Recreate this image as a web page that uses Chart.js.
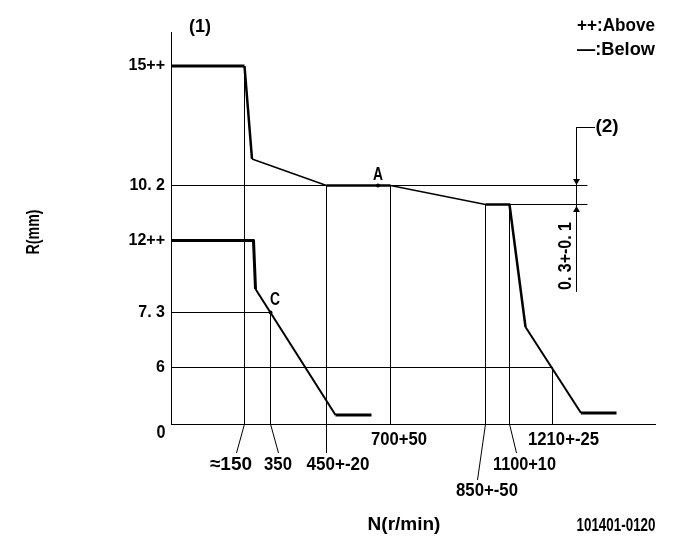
<!DOCTYPE html>
<html>
<head>
<meta charset="utf-8">
<script src="https://cdn.jsdelivr.net/npm/chart.js@4"></script>
<style>
  html, body { margin: 0; padding: 0; background: #fff; }
  canvas { display: block; }
</style>
</head>
<body>
<canvas id="chart" width="681" height="549"></canvas>
<script>
// The drawing is a schematic, so both axes run in drawing units, not in r/min or mm
const upperX = [0, 73.5, 81, 155.5, 219.5, 314.5, 338.5, 354.5, 410, 445.5];
const upperY = [358, 358, 265, 238.5, 238.5, 219.5, 219.5, 97, 11, 11];
const lowerX = [0, 82.5, 84.5, 164.5, 200.5];
const lowerY = [183.5, 183.5, 135, 9, 9];

// y axis ticks
const yTickValues = [358, 238.5, 183.5, 111.5, 56.5];
const yTickLabels = ['15++', '10. 2', '12++', '7. 3', '6'];

// thin guide lines, each one [x1, y1, x2, y2]
const guides = [
    [0, 238.5, 416.5, 238.5],
    [314.5, 219.5, 416.5, 219.5],
    [0, 111.5, 99.5, 111.5],
    [0, 56.5, 381.5, 56.5],
    [73.5, 358, 73.5, 0],
    [73.5, 0, 65.5, -29],
    [99.5, 111.5, 99.5, 0],
    [99.5, 0, 107.5, -29],
    [155.5, 238.5, 155.5, -29],
    [219.5, 238.5, 219.5, 0],
    [314.5, 219.5, 314.5, 0],
    [314.5, 0, 306.5, -56],
    [338.5, 219.5, 338.5, 0],
    [338.5, 0, 345.5, -29],
    [381.5, 56.5, 381.5, 0],
    [405.5, 296.5, 405.5, 132.5],
    [405.5, 296.5, 424, 296.5]
];

const markX = [207, 99.5];
const markY = [238.5, 111.5];
const arrowDownX = [405.5];
const arrowDownY = [243];
const arrowUpX = [405.5];
const arrowUpY = [214];

// free text with its centre in axis units
const textLabels = ['(1)', '++:Above', '—:Below', '(2)', 'A', 'C', '0',
    '≈150', '350', '450+-20', '700+50', '1210+-25', '1100+10', '850+-50',
    'N(r/min)', '101401-0120'];
const textX = [29, 445, 445, 436, 207, 104, -10,
    60, 107, 167, 228, 392.5, 353.5, 316,
    233, 445];
const textY = [397, 398, 374, 297, 249, 124, -9,
    -41, -41, -41, -16, -16, -41, -67,
    -101, -102];
const textWidths = [22, 78, 78, 24, 10, 10, 9, 45, 28, 63, 56, 71, 63, 62, 74, 79];

const sideLabels = ['0. 3+-0. 1', 'R(mm)'];
const sideX = [395, -137];
const sideY = [168, 192];
const sideWidths = [68, 45];

const FONT = 'bold 19px "Liberation Sans", sans-serif';

function toPoints(xs, ys) {
    return xs.map((x, i) => ({ x: x, y: ys[i] }));
}

function lineSet(xs, ys, width) {
    return {
        data: toPoints(xs, ys),
        showLine: true,
        borderColor: '#000',
        backgroundColor: '#000',
        borderWidth: width,
        pointRadius: 0,
        clip: false
    };
}

function curveSet(xs, ys, widths) {
    const set = lineSet(xs, ys, 2);
    set.borderJoinStyle = 'round';
    set.segment = { borderWidth: ctx => widths[ctx.p0DataIndex] };
    return set;
}

function markSet(xs, ys, style, radius, rotation) {
    return {
        data: toPoints(xs, ys),
        showLine: false,
        pointStyle: style,
        pointRadius: radius,
        rotation: rotation,
        borderWidth: 0,
        pointBackgroundColor: '#000',
        clip: false
    };
}

const textPlugin = {
    id: 'freeText',
    afterDatasetsDraw(chart) {
        const c = chart.ctx;
        const xs = chart.scales.x;
        const ys = chart.scales.y;
        c.save();
        c.fillStyle = '#000';
        c.font = FONT;
        c.textAlign = 'center';
        c.textBaseline = 'middle';
        textLabels.forEach((t, i) => {
            c.fillText(t, xs.getPixelForValue(textX[i]), ys.getPixelForValue(textY[i]), textWidths[i]);
        });
        sideLabels.forEach((t, i) => {
            c.save();
            c.translate(xs.getPixelForValue(sideX[i]), ys.getPixelForValue(sideY[i]));
            c.rotate(-Math.PI / 2);
            c.fillText(t, 0, 0, sideWidths[i]);
            c.restore();
        });
        c.restore();
    }
};

new Chart(document.getElementById('chart'), {
    type: 'scatter',
    data: {
        datasets: [
            ...guides.map(g => lineSet([g[0], g[2]], [g[1], g[3]], 1)),
            curveSet(upperX, upperY, [3, 2.5, 1.5, 2.5, 1.5, 2.5, 2.5, 2, 3]),
            curveSet(lowerX, lowerY, [3, 3, 2, 3]),
            markSet(markX, markY, 'circle', 2, 0),
            markSet(arrowDownX, arrowDownY, 'triangle', 4, 180),
            markSet(arrowUpX, arrowUpY, 'triangle', 4, 0)
        ]
    },
    options: {
        responsive: false,
        animation: false,
        layout: { padding: { top: 32, right: 26, left: 0, bottom: 0 } },
        plugins: { legend: { display: false }, tooltip: { enabled: false } },
        scales: {
            x: {
                type: 'linear',
                min: 0,
                max: 484,
                afterFit: s => { s.height = 125; },
                grid: { drawOnChartArea: false, drawTicks: false },
                border: { color: '#000', width: 1 },
                ticks: { display: false }
            },
            y: {
                type: 'linear',
                min: 0,
                max: 392,
                afterFit: s => { s.width = 171; },
                afterBuildTicks: s => { s.ticks = yTickValues.map(v => ({ value: v })); },
                grid: { drawOnChartArea: false, drawTicks: false },
                border: { color: '#000', width: 1 },
                ticks: {
                    color: '#000',
                    padding: 6,
                    autoSkip: false,
                    font: { family: '"Liberation Sans", sans-serif', size: 16, weight: 'bold' },
                    callback: v => yTickLabels[yTickValues.indexOf(v)]
                }
            }
        }
    },
    plugins: [textPlugin]
});
</script>
</body>
</html>
